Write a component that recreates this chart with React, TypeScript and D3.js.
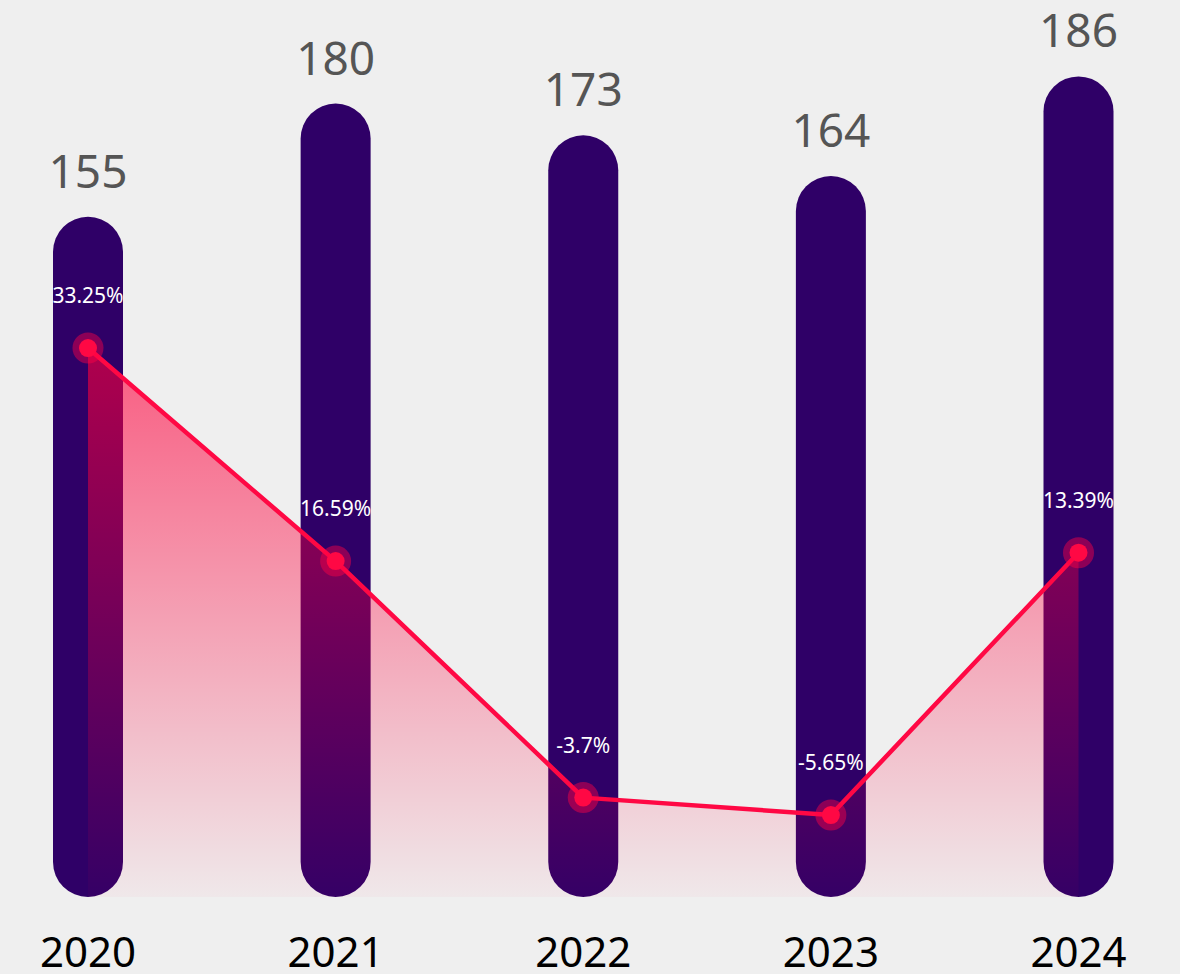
import React from "react";
import * as d3 from "d3";

const years = ["2020", "2021", "2022", "2023", "2024"];
const totals = [155, 180, 173, 164, 186];
const growthLabels = ["33.25%", "16.59%", "-3.7%", "-5.65%", "13.39%"];
// plotted level of each growth point
const growthLevels = [33.25, 15.5, -4.2, -5.65, 16.2];

const W = 1180;
const H = 974;
const BAR_W = 70;
const BAR_BOTTOM = 897;

export default function App() {
  const x = d3.scalePoint<string>().domain(years).range([88, 1078.5]);
  const y = d3.scaleLinear().domain([0, 200]).range([919, 13]);
  const r = d3.scaleLinear().domain([-10, 40]).range([867.25, 267.0]);

  const pts = years.map((yr, i) => ({ x: x(yr) as number, y: r(growthLevels[i]) }));
  const line = d3.line<{ x: number; y: number }>().x((d) => d.x).y((d) => d.y);
  const area = d3
    .area<{ x: number; y: number }>()
    .x((d) => d.x)
    .y0(BAR_BOTTOM)
    .y1((d) => d.y);
  const areaTop = d3.min(pts, (d) => d.y) as number;

  const font = "'Noto Sans', 'Open Sans', sans-serif";

  return (
    <svg
      width={W}
      height={H}
      style={{ position: "absolute", left: 0, top: 0, background: "#efefef" }}
      fontFamily={font}
    >
      <defs>
        <linearGradient id="areaGrad" gradientUnits="userSpaceOnUse" x1="0" y1={areaTop} x2="0" y2={BAR_BOTTOM}>
          <stop offset="0" stopColor="rgb(255,0,60)" stopOpacity={0.62} />
          <stop offset="1" stopColor="rgb(255,0,60)" stopOpacity={0.03} />
        </linearGradient>
      </defs>
      <rect x={0} y={0} width={W} height={H} fill="#efefef" />
      {years.map((yr, i) => {
        const cx = x(yr) as number;
        const top = y(totals[i]);
        return (
          <g key={yr}>
            <rect
              x={cx - BAR_W / 2}
              y={top}
              width={BAR_W}
              height={BAR_BOTTOM - top}
              rx={BAR_W / 2}
              ry={BAR_W / 2}
              fill="#2f0067"
            />
            <text x={cx} y={top - 29} textAnchor="middle" fontSize={46} fill="#555555">
              {totals[i]}
            </text>
            <text x={cx} y={967} textAnchor="middle" fontSize={42} fill="#000000">
              {yr}
            </text>
          </g>
        );
      })}
      <path d={area(pts) as string} fill="url(#areaGrad)" />
      <path d={line(pts) as string} fill="none" stroke="#ff0844" strokeWidth={4.5} strokeLinejoin="round" />
      {pts.map((p, i) => (
        <g key={i}>
          <circle cx={p.x} cy={p.y} r={15.5} fill="rgba(255,0,68,0.45)" />
          <circle cx={p.x} cy={p.y} r={9} fill="#ff0844" />
          <text x={p.x} y={p.y - 45} textAnchor="middle" fontSize={21} fill="#ffffff">
            {growthLabels[i]}
          </text>
        </g>
      ))}
    </svg>
  );
}
